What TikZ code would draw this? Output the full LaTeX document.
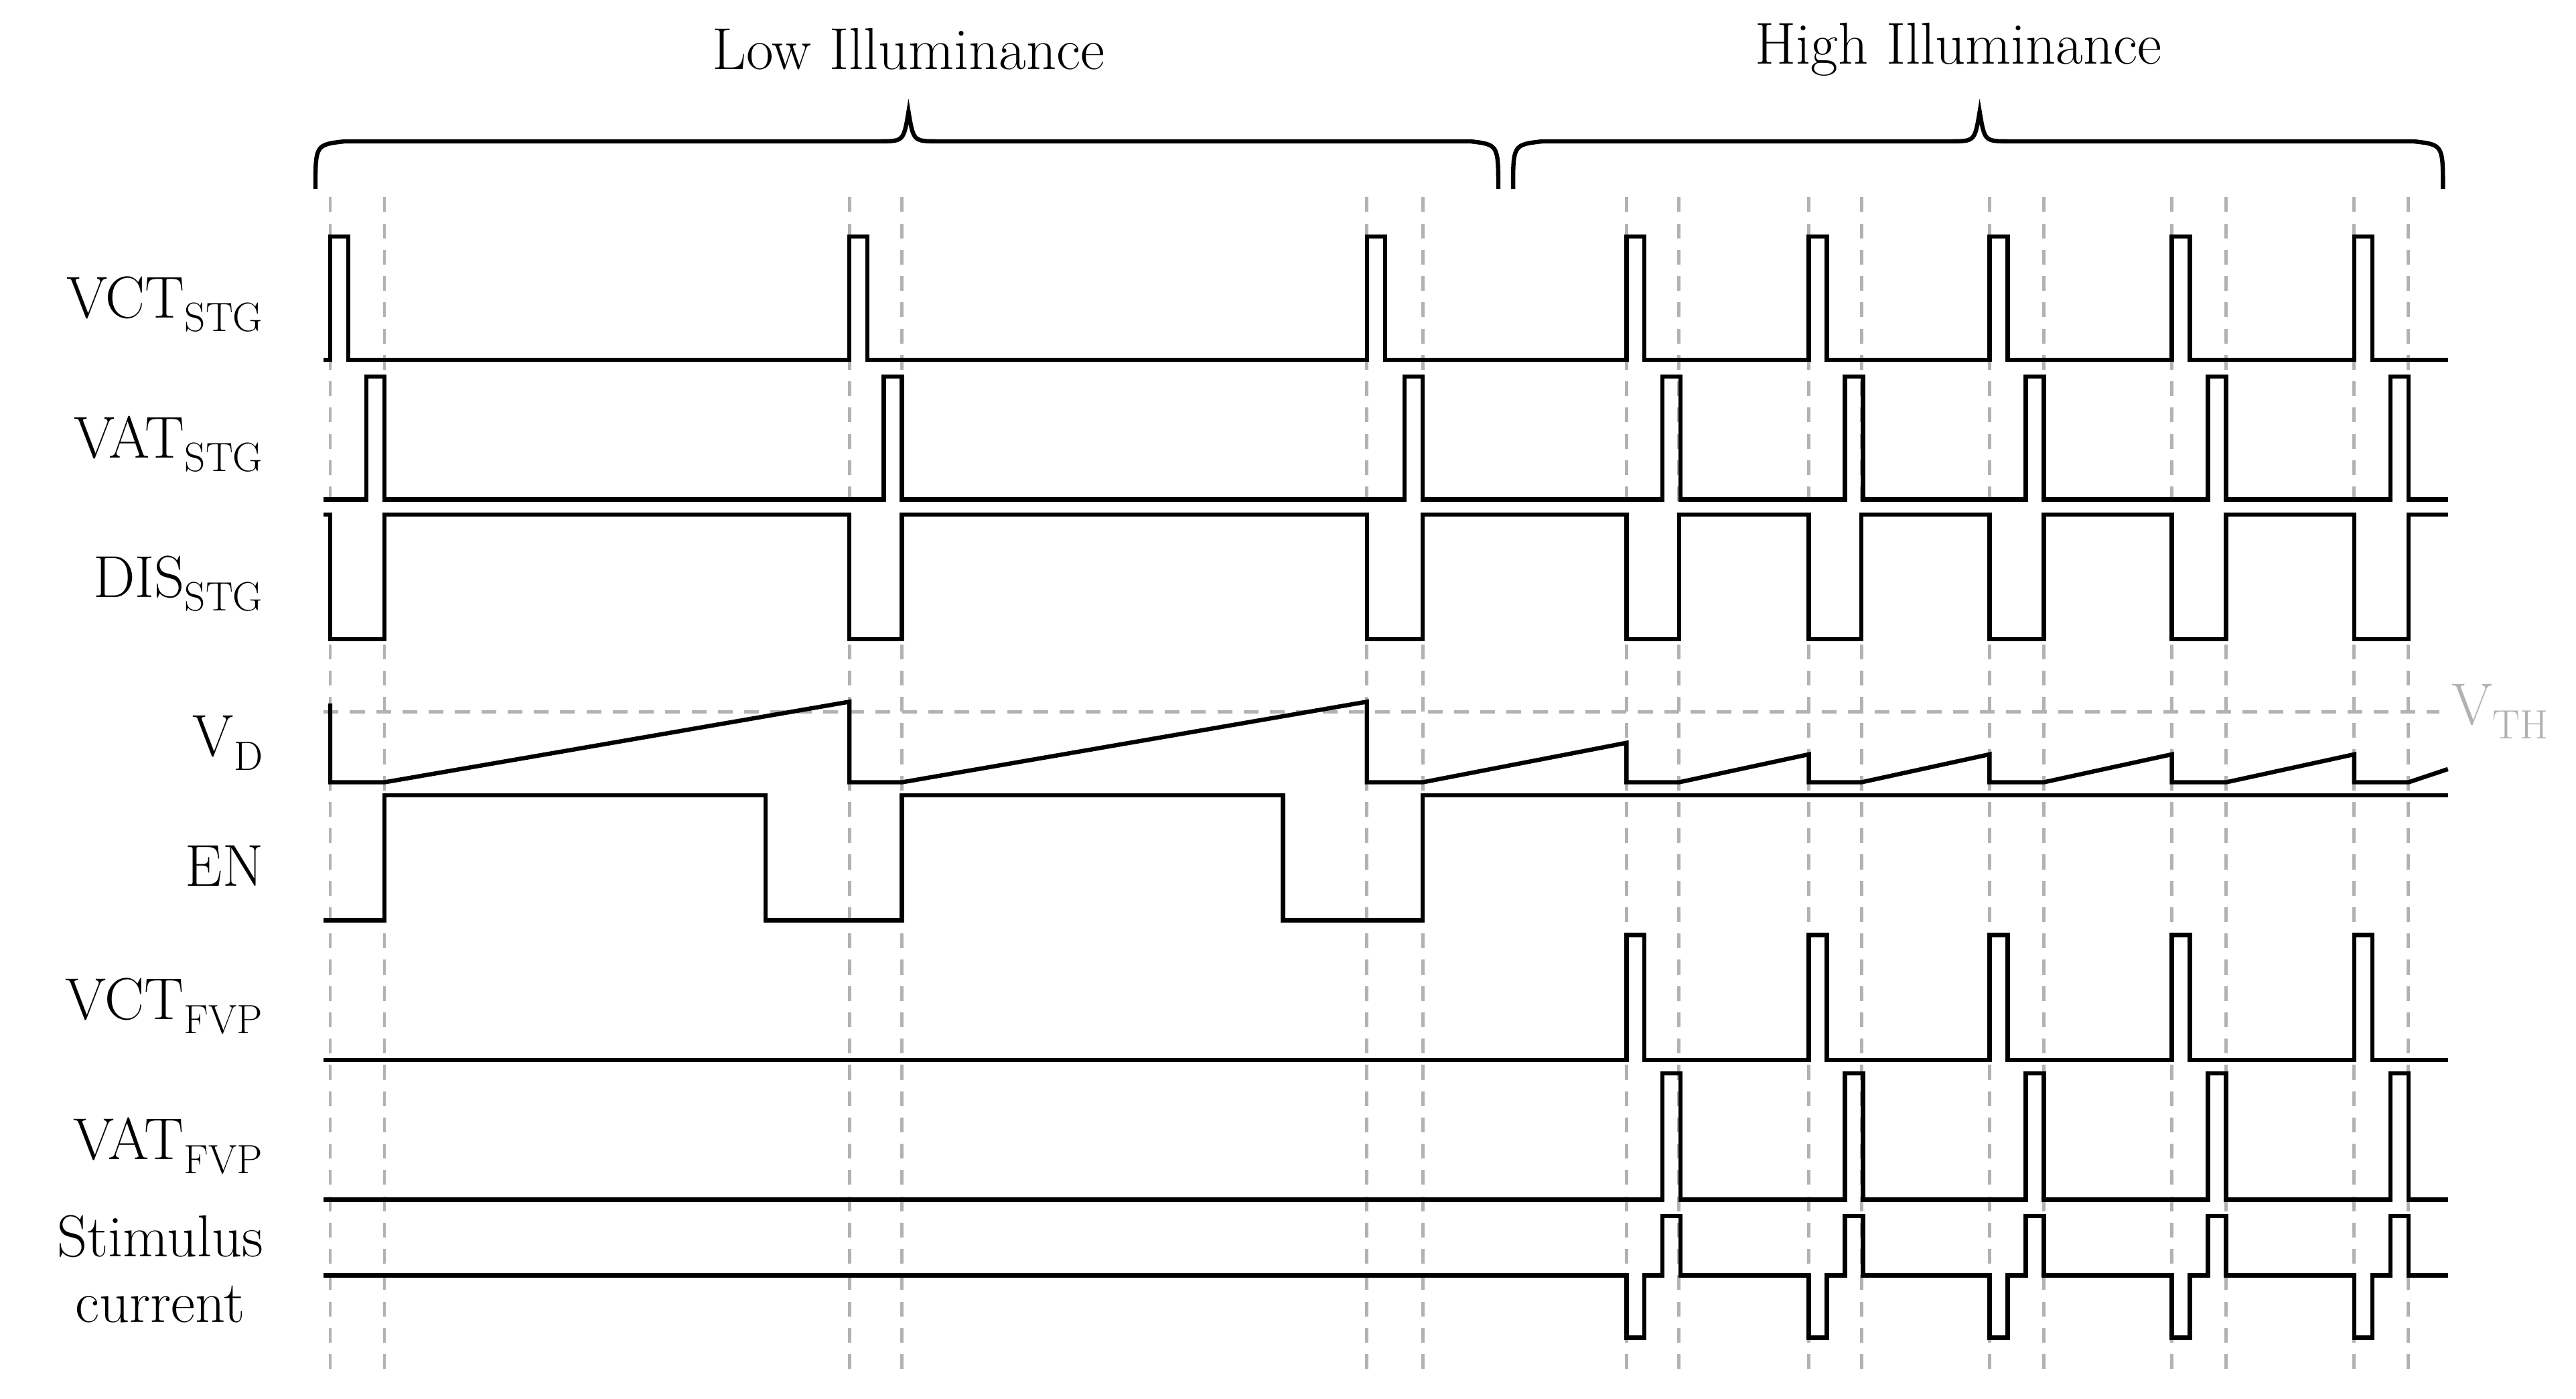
\documentclass[tikz,border=0pt]{standalone}
\begin{document}
\begin{tikzpicture}[x=1pt,y=-1pt,line width=2.6pt,line join=miter,
  sig/.style={black},
  guide/.style={gray!60,line width=2pt,dash pattern=on 9pt off 7pt},
  lab/.style={anchor=east,font=\fontsize{36}{40}\selectfont,align=center}]
\useasboundingbox (0,0) rectangle (1568,851);
% dashed guides
\foreach \x in {201,234,517,549,832,866,990,1022,1101,1133,1211,1244,1322,1355,1433,1466}
  \draw[guide] (\x,120) -- (\x,835);
\draw[guide] (197,433) -- (1485,433);
\node[anchor=west,text=gray!60,font=\fontsize{36}{40}\selectfont,inner sep=1pt] (vth) at (1490,433) {V$_{\mathrm{TH}}$};
% braces
\draw[line width=2.6pt] (192,115) .. controls (192,88) .. (210,86) -- (535,86) .. controls (550,86) .. (553,68) .. controls (556,86) .. (571,86) -- (895,86) .. controls (912,88) .. (912,115);
\draw[line width=2.6pt] (921,115) .. controls (921,88) .. (939,86) -- (1187,86) .. controls (1202,86) .. (1205,68) .. controls (1208,86) .. (1223,86) -- (1469,86) .. controls (1487,88) .. (1487,115);
\node[font=\fontsize{36}{40}\selectfont] (low) at (553,30) {Low Illuminance};
\node[font=\fontsize{36}{40}\selectfont] (high) at (1192,30) {High Illuminance};
% labels
\node[lab] (l1) at (165,185) {VCT$_{\mathrm{STG}}$};
\node[lab] (l2) at (165,270) {VAT$_{\mathrm{STG}}$};
\node[lab] (l3) at (165,355) {DIS$_{\mathrm{STG}}$};
\node[lab] (l4) at (165,452) {V$_{\mathrm{D}}$};
\node[lab] (l5) at (165,527) {EN};
\node[lab] (l6) at (165,612) {VCT$_{\mathrm{FVP}}$};
\node[lab] (l7) at (165,697) {VAT$_{\mathrm{FVP}}$};
\node[lab] (l8) at (165,772) {Stimulus\\current};
% VCT_STG
\draw[sig] (197,219) \foreach \a in {201,517,832,990,1101,1211,1322,1433}
  { -- (\a,219) -- (\a,144) -- (\a+11,144) -- (\a+11,219) } -- (1490,219);
% VAT_STG
\draw[sig] (197,304) \foreach \a in {223,538,855,1012,1123,1233,1344,1455}
  { -- (\a,304) -- (\a,229) -- (\a+11,229) -- (\a+11,304) } -- (1490,304);
% DIS_STG
\draw[sig] (197,313) \foreach \a/\b in {201/234,517/549,832/866,990/1022,1101/1133,1211/1244,1322/1355,1433/1466}
  { -- (\a,313) -- (\a,389) -- (\b,389) -- (\b,313) } -- (1490,313);
% V_D
\draw[sig] (201,428) -- (201,476) -- (234,476) -- (517,427) -- (517,476) -- (549,476) -- (832,427) -- (832,476) -- (866,476)
  -- (990,452) -- (990,476) -- (1022,476) -- (1101,459) -- (1101,476) -- (1133,476) -- (1211,459) -- (1211,476) -- (1244,476)
  -- (1322,459) -- (1322,476) -- (1355,476) -- (1433,459) -- (1433,476) -- (1466,476) -- (1490,468);
% EN
\draw[sig] (197,560) -- (234,560) -- (234,484) -- (466,484) -- (466,560) -- (549,560) -- (549,484) -- (781,484) -- (781,560) -- (866,560) -- (866,484) -- (1490,484);
% VCT_FVP
\draw[sig] (197,645) \foreach \a in {990,1101,1211,1322,1433}
  { -- (\a,645) -- (\a,569) -- (\a+11,569) -- (\a+11,645) } -- (1490,645);
% VAT_FVP
\draw[sig] (197,730) \foreach \a in {1012,1123,1233,1344,1455}
  { -- (\a,730) -- (\a,653) -- (\a+11,653) -- (\a+11,730) } -- (1490,730);
% Stimulus
\draw[sig] (197,776) \foreach \a in {990,1101,1211,1322,1433}
  { -- (\a,776) -- (\a,814) -- (\a+11,814) -- (\a+11,776) -- (\a+22,776) -- (\a+22,740) -- (\a+33,740) -- (\a+33,776) } -- (1490,776);
\end{tikzpicture}
\end{document}
